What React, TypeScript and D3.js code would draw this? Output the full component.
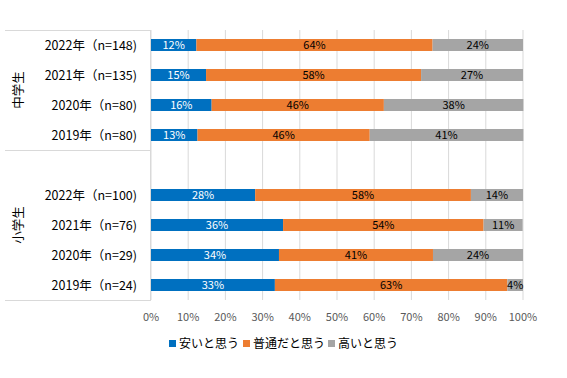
import React from "react";
import * as d3 from "d3";

const groups = ["中学生", "小学生"];
const categories = [
  { group: "中学生", label: "2022年（n=148)" },
  { group: "中学生", label: "2021年（n=135)" },
  { group: "中学生", label: "2020年（n=80)" },
  { group: "中学生", label: "2019年（n=80)" },
  { group: "小学生", label: "" },
  { group: "小学生", label: "2022年（n=100)" },
  { group: "小学生", label: "2021年（n=76)" },
  { group: "小学生", label: "2020年（n=29)" },
  { group: "小学生", label: "2019年（n=24)" },
];
const seriesNames = ["安いと思う", "普通だと思う", "高いと思う"];
const yasui = [12.2, 14.8, 16.3, 12.5, null, 28, 35.5, 34.4, 33.3];
const futsu = [63.5, 57.8, 46.3, 46.3, null, 58, 53.9, 41.4, 62.5];
const takai = [24.3, 27.4, 37.5, 41.3, null, 14, 10.5, 24.2, 4.2];
const xTicks = [0, 10, 20, 30, 40, 50, 60, 70, 80, 90, 100];
const colors = ["#0070C0", "#ED7D31", "#A5A5A5"];
const labelColors = ["#FFFFFF", "#000000", "#000000"];

const W = 567, H = 378;
const m = { left: 151, right: 523, top: 30, bottom: 300 };
const FONT = "'Noto Sans CJK JP', 'Noto Sans', sans-serif";

export default function App() {
  const x = d3.scaleLinear().domain([0, 100]).range([m.left, m.right]);
  const y = d3.scaleBand<number>().domain(d3.range(categories.length)).range([m.top, m.bottom]);
  const barH = 12;
  const series = [yasui, futsu, takai];

  const groupExtents = groups.map((g) => {
    const idx = categories.map((c, i) => (c.group === g ? i : -1)).filter((i) => i >= 0);
    const y0 = y(idx[0])!;
    const y1 = y(idx[idx.length - 1])! + y.bandwidth();
    return { g, y0, y1 };
  });

  return (
    <svg width={W} height={H} style={{ position: "absolute", left: 0, top: 0, background: "#fff" }}>
      <rect x={0} y={0} width={W} height={H} fill="#fff" />
      {xTicks.map((t) => (
        <line key={t} x1={x(t)} x2={x(t)} y1={m.top} y2={m.bottom} stroke="#D9D9D9" strokeWidth={1} />
      ))}
      <line x1={m.left - 0.5} x2={m.left - 0.5} y1={m.top} y2={m.bottom} stroke="#D9D9D9" />
      {[m.top, ...groupExtents.slice(1).map((e) => e.y0), m.bottom].map((yy, i) => (
        <line key={i} x1={5} x2={m.left} y1={Math.round(yy) + 0.5} y2={Math.round(yy) + 0.5} stroke="#D9D9D9" />
      ))}
      {categories.map((c, i) =>
        (() => {
          let acc = 0;
          return series.map((s, si) => {
            const v = s[i];
            if (v == null) return null;
            const x0 = x(acc);
            acc += v;
            const x1 = x(acc);
            const cy = y(i)! + y.bandwidth() / 2;
            return (
              <g key={`${i}-${si}`}>
                <rect x={x0} y={cy - barH / 2} width={x1 - x0} height={barH} fill={colors[si]} />
                <text x={(x0 + x1) / 2} y={cy} dy="0.36em" textAnchor="middle" fontSize={11}
                  fontFamily={FONT} fill={labelColors[si]}>
                  {Math.round(v)}%
                </text>
              </g>
            );
          });
        })()
      )}
      {categories.map((c, i) => (
        <text key={i} x={137} y={y(i)! + y.bandwidth() / 2} dy="0.36em" textAnchor="end" fontSize={12.5}
          fontFamily={FONT} fill="#000">
          {c.label}
        </text>
      ))}
      {groupExtents.map((e) => (
        <text key={e.g} transform={`translate(18,${(e.y0 + e.y1) / 2}) rotate(-90)`} textAnchor="middle"
          dy="0.36em" fontSize={12.5} fontFamily={FONT} fill="#000">
          {e.g}
        </text>
      ))}
      {xTicks.map((t) => (
        <text key={t} x={x(t)} y={317} dy="0.36em" textAnchor="middle" fontSize={11} fontFamily={FONT} fill="#595959">
          {t}%
        </text>
      ))}
      {seriesNames.map((n, i) => {
        const lx = [169, 243, 328][i];
        return (
          <g key={n}>
            <rect x={lx} y={340} width={7} height={7} fill={colors[i]} />
            <text x={lx + 10} y={344} dy="0.36em" fontSize={12} fontFamily={FONT} fill="#000">
              {n}
            </text>
          </g>
        );
      })}
    </svg>
  );
}
